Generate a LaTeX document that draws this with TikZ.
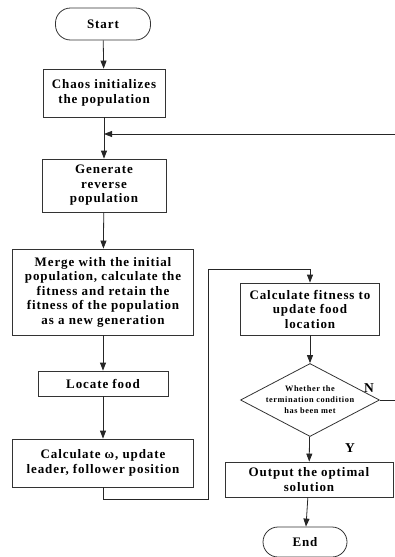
\documentclass[tikz,border=0pt]{standalone}
\usepackage{fontspec}
\setmainfont{Liberation Serif}[LetterSpace=7]
\usetikzlibrary{arrows.meta,shapes.geometric}
\tikzset{
  box/.style={draw=black!80, line width=0.8pt, align=center, inner sep=0pt,
    font=\bfseries\fontsize{13}{14.5}\selectfont},
  term/.style={box, rounded corners=15pt},
  flow/.style={draw=black!85, line width=0.8pt, -{Triangle[length=8pt,width=6pt]}},
  line/.style={draw=black!85, line width=0.8pt},
}
\begin{document}
\begin{tikzpicture}[x=1pt,y=-1pt]
\useasboundingbox (0,0) rectangle (394,557);
\node[term, minimum width=95pt, minimum height=32pt] (start) at (103,24) {Start};
\node[box, minimum width=122pt, minimum height=48pt] (chaos) at (104,93) {Chaos initializes\\the population};
\node[box, minimum width=124pt, minimum height=53pt] (gen) at (104,185.5) {Generate\\reverse\\population};
\node[box, minimum width=181pt, minimum height=86pt] (merge) at (103,292) {Merge with the initial\\population, calculate the\\fitness and retain the\\fitness of the population\\as a new generation};
\node[box, minimum width=130pt, minimum height=25pt] (food) at (103,383.5) {Locate food};
\node[box, minimum width=181pt, minimum height=48pt] (calc) at (103,463) {Calculate ω, update\\leader, follower position};
\node[box, minimum width=139pt, minimum height=52pt] (fit) at (310,309) {Calculate fitness to\\update food\\location};
\node[diamond, draw=black!80, line width=0.8pt, minimum width=139pt, minimum height=73pt, inner sep=0pt] (cond) at (310,400) {};
\node[align=center, font=\bfseries\fontsize{8.3}{11}\selectfont] (condtxt) at (cond) {Whether the\\termination condition\\has been met};
\node[box, minimum width=168pt, minimum height=35pt] (out) at (309,479.5) {Output the optimal\\solution};
\node[term, minimum width=84pt, minimum height=30pt] (end) at (305,542) {End};
\node[font=\bfseries\fontsize{13.5}{14}\selectfont] (nlab) at (369,388) {N};
\node[font=\bfseries\fontsize{13.5}{14}\selectfont] (ylab) at (350,448) {Y};
% main flow
\draw[flow] (start) -- (chaos);
\draw[flow] (chaos) -- (gen);
\draw[flow] (gen) -- (merge);
\draw[flow] (merge) -- (food);
\draw[flow] (food) -- (calc);
\coordinate (c1) at (calc.south |- 0,499);
\coordinate (c2) at (208,499);
\coordinate (c3) at (208,269);
\coordinate (c4) at (fit.north |- 0,269);
\draw[line] (calc.south) -- (c1) -- (c2) -- (c3) -- (c4);
\draw[flow] (c4) -- (fit);
\draw[flow] (fit) -- (cond);
\draw[flow] (cond) -- (out);
\draw[flow] (out) -- (end);
% loop back
\coordinate (fb) at (chaos.south |- 0,134);
\draw[flow] (cond.east) -- (397,400) -- (397,134) -- (fb);
\end{tikzpicture}
\end{document}
